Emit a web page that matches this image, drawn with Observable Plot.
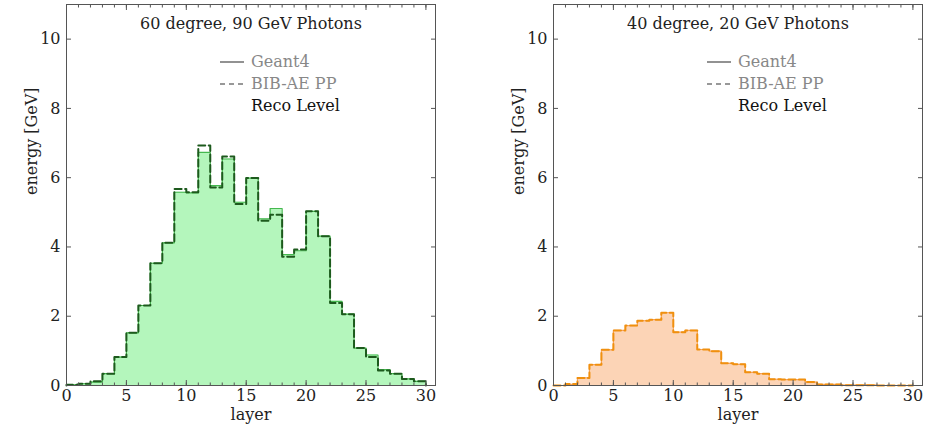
<!DOCTYPE html>
<html>
<head>
<meta charset="utf-8">
<script src="https://cdn.jsdelivr.net/npm/d3@7"></script>
<script src="https://cdn.jsdelivr.net/npm/@observablehq/plot@0.6"></script>
<style>
  body { margin: 0; background: #fff; }
  #wrap { position: relative; width: 935px; height: 430px; display: flex; font-family: "DejaVu Serif", serif; }
  .panel { position: relative; }
  .legend { position: absolute; font-size: 16px; line-height: 22px; }
  .legend .row { display: flex; align-items: center; height: 22px; white-space: nowrap; }
  .legend svg { margin-right: 7px; }
</style>
</head>
<body>
<div id="wrap"></div>
<script>
// Energy deposited per calorimeter layer (GeV), 30 layers
const layerEdges = d3.range(31);
const g4_60deg_90GeV  = [0.02, 0.05, 0.10, 0.34, 0.82, 1.52, 2.31, 3.53, 4.12, 5.58, 5.56, 6.73, 5.77, 6.54, 5.29, 5.99, 4.81, 5.11, 3.78, 3.89, 5.03, 4.31, 2.43, 2.06, 1.08, 0.88, 0.46, 0.34, 0.19, 0.12];
const bib_60deg_90GeV = [0.02, 0.05, 0.12, 0.34, 0.82, 1.52, 2.31, 3.53, 4.12, 5.67, 5.58, 6.93, 5.72, 6.61, 5.24, 5.99, 4.76, 4.93, 3.72, 3.93, 5.03, 4.31, 2.38, 2.06, 1.08, 0.82, 0.43, 0.34, 0.19, 0.12];
const g4_40deg_20GeV  = [0.00, 0.03, 0.22, 0.60, 1.03, 1.59, 1.73, 1.87, 1.90, 2.10, 1.54, 1.59, 1.04, 0.99, 0.64, 0.61, 0.38, 0.34, 0.18, 0.17, 0.17, 0.10, 0.03, 0.03, 0.01, 0.01, 0.01, 0.00, 0.00, 0.00];
const bib_40deg_20GeV = [0.00, 0.04, 0.22, 0.60, 1.03, 1.59, 1.73, 1.87, 1.90, 2.10, 1.54, 1.59, 1.04, 0.99, 0.64, 0.61, 0.38, 0.34, 0.18, 0.17, 0.17, 0.10, 0.03, 0.03, 0.01, 0.01, 0.01, 0.00, 0.00, 0.00];

const titles = ["60 degree, 90 GeV Photons", "40 degree, 20 GeV Photons"];
const legendLabels = ["Geant4", "BIB-AE PP", "Reco Level"];
const xTicks = [0, 5, 10, 15, 20, 25, 30];
const xMinorTicks = d3.range(0, 31);
const yTicks = [0, 2, 4, 6, 8, 10];
const xLabel = "layer";
const yLabel = "energy [GeV]";

// Outline of a step histogram: drops to zero at both ends
function steps(values) {
  const pts = [{x: layerEdges[0], y: 0}];
  values.forEach((v, i) => {
    pts.push({x: layerEdges[i], y: v});
    pts.push({x: layerEdges[i + 1], y: v});
  });
  pts.push({x: layerEdges[values.length], y: 0});
  return pts;
}

function panel({title, g4, bib, fill, solid, dashed, width, marginLeft, marginRight}) {
  const g4Steps = steps(g4);
  const bibSteps = steps(bib);
  const frameColor = "#555";
  const plot = Plot.plot({
    width, height: 430,
    marginLeft, marginRight, marginTop: 4, marginBottom: 45,
    x: {domain: [0, 30.8]},
    y: {domain: [0, 11]},
    style: {fontFamily: "DejaVu Serif", fontSize: "16px", color: "#222", background: "#fff"},
    marks: [
      // filled Geant4 histogram (no stacking)
      Plot.area(g4Steps, {x1: "x", y1: 0, y2: "y", fill, curve: "linear"}),
      Plot.line(g4Steps, {x: "x", y: "y", stroke: solid, strokeWidth: 1.2}),
      Plot.line(bibSteps, {x: "x", y: "y", stroke: dashed, strokeWidth: 2, strokeDasharray: "7,3.5"}),
      // inward ticks on all four sides
      Plot.axisX({anchor: "bottom", ticks: xTicks, tickSize: -5, tickFormat: () => "", label: null, stroke: frameColor}),
      Plot.axisX({anchor: "top", ticks: xTicks, tickSize: -5, tickFormat: () => "", label: null, stroke: frameColor}),
      Plot.axisX({anchor: "bottom", ticks: xMinorTicks, tickSize: -2.5, tickFormat: () => "", label: null, stroke: frameColor}),
      Plot.axisX({anchor: "top", ticks: xMinorTicks, tickSize: -2.5, tickFormat: () => "", label: null, stroke: frameColor}),
      Plot.axisY({anchor: "left", ticks: yTicks, tickSize: -5, tickFormat: () => "", label: null, stroke: frameColor}),
      Plot.axisY({anchor: "right", ticks: yTicks, tickSize: -5, tickFormat: () => "", label: null, stroke: frameColor}),
      // tick labels
      Plot.axisX({anchor: "bottom", ticks: xTicks, tickSize: 0, tickPadding: 4, label: null}),
      Plot.axisY({anchor: "left", ticks: yTicks, tickSize: 0, tickPadding: 6, label: null}),
      Plot.frame({stroke: frameColor, strokeWidth: 1}),
      Plot.text([title], {frameAnchor: "top", dy: 13, fontSize: 16, fill: "#222"}),
      Plot.text([xLabel], {frameAnchor: "bottom", dy: 34, fontSize: 16, fill: "#222"}),
      Plot.text([yLabel], {frameAnchor: "left", dx: -35, rotate: -90, fontSize: 16, fill: "#222"})
    ]
  });

  const div = document.createElement("div");
  div.className = "panel";
  div.style.width = width + "px";
  div.appendChild(plot);

  // legend inside the frame, upper middle
  const leg = document.createElement("div");
  leg.className = "legend";
  leg.style.left = (marginLeft + 154) + "px";
  leg.style.top = "51px";
  const handles = [
    `<svg width="24" height="10"><line x1="0" y1="5" x2="24" y2="5" stroke="#777" stroke-width="1.6"/></svg>`,
    `<svg width="24" height="10"><line x1="0" y1="5" x2="24" y2="5" stroke="#777" stroke-width="1.6" stroke-dasharray="5,4"/></svg>`,
    `<svg width="24" height="10"></svg>`
  ];
  const colors = ["#888", "#888", "#111"];
  leg.innerHTML = legendLabels.map((t, i) =>
    `<div class="row">${handles[i]}<span style="color:${colors[i]}">${t}</span></div>`).join("");
  div.appendChild(leg);
  return div;
}

const wrap = document.getElementById("wrap");
wrap.appendChild(panel({
  title: titles[0], g4: g4_60deg_90GeV, bib: bib_60deg_90GeV,
  fill: "#b4f6bc", solid: "#45b84f", dashed: "#1d5a1d",
  width: 480, marginLeft: 66, marginRight: 45
}));
wrap.appendChild(panel({
  title: titles[1], g4: g4_40deg_20GeV, bib: bib_40deg_20GeV,
  fill: "#fcd4b6", solid: "#f5a462", dashed: "#f0900f",
  width: 455, marginLeft: 73, marginRight: 13
}));
</script>
</body>
</html>
